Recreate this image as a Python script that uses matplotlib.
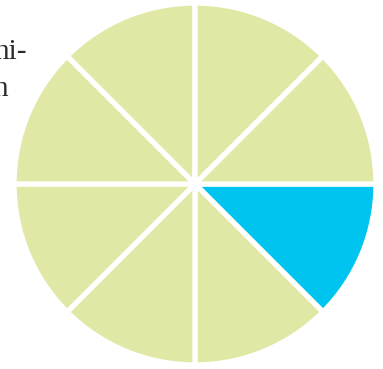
import matplotlib
matplotlib.use("Agg")
import matplotlib.pyplot as plt

# Data: eight equal slices, first (0° to -45°) highlighted
slice_values = [1, 1, 1, 1, 1, 1, 1, 1]
highlight = [True, False, False, False, False, False, False, False]
text_lines = ["ni-", "n"]

green = "#E1E8A6"
blue = "#00C4F0"
colors = [blue if h else green for h in highlight]

W, H = 383, 369
fig = plt.figure(figsize=(W / 100, H / 100), dpi=100)

# text fragments at the left, clipped by the figure edge
fig.text(27 / W, 1 - 59 / H, text_lines[0], ha="right", va="baseline",
         fontsize=21, family="Liberation Serif", color="#2b2b2b")
fig.text(8 / W, 1 - 96 / H, text_lines[1], ha="right", va="baseline",
         fontsize=21, family="Liberation Serif", color="#2b2b2b")

cx, cy, r = 195, 184, 181
ax = fig.add_axes([(cx - r) / W, (H - cy - r) / H, 2 * r / W, 2 * r / H])
ax.pie(slice_values, colors=colors, startangle=0, counterclock=False,
       radius=1, wedgeprops=dict(edgecolor="white", linewidth=3.8))
ax.set_xlim(-1.0, 1.0)
ax.set_ylim(-1.0, 1.0)
ax.set_aspect("auto")
ax.axis("off")

fig.savefig("out.png", dpi=100)
